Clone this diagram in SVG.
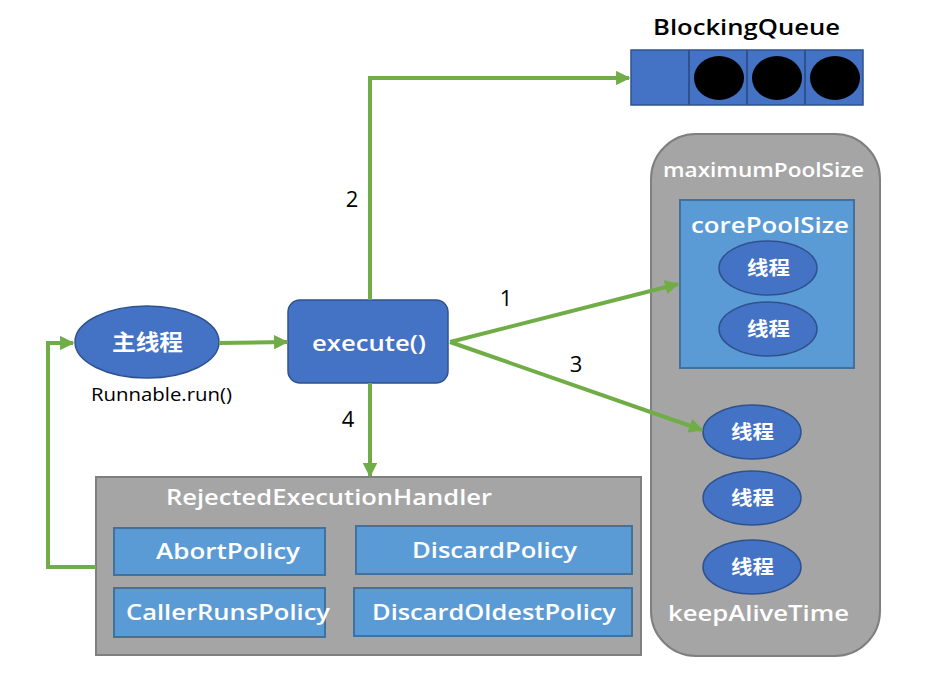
<svg xmlns="http://www.w3.org/2000/svg" width="947" height="686" viewBox="0 0 947 686">
<defs>
<marker id="arr" viewBox="0 0 10 10" refX="9" refY="5" markerWidth="3.6" markerHeight="3.6" orient="auto" markerUnits="strokeWidth">
<path d="M0,0 L10,5 L0,10 Z" fill="#70ad47"/>
</marker>
<style>
text{font-family:"Open Sans","Noto Sans CJK SC",sans-serif;font-weight:600;}
.w{fill:#fff;}
.b{fill:#000;}
.n{font-weight:400;}
.c{stroke:#70ad47;stroke-width:4;fill:none;marker-end:url(#arr);}
.blue{fill:#4472c4;stroke:#2f528f;stroke-width:1.5;}
.lb{fill:#5b9bd5;stroke:#41719c;stroke-width:2;}
.grey{fill:#a5a5a5;stroke:#7f7f7f;stroke-width:2;}
</style>
</defs>
<rect width="947" height="686" fill="#fff"/>

<g id="queue">
<text x="653" y="35" font-size="22" textLength="187" lengthAdjust="spacingAndGlyphs" class="b">BlockingQueue</text>
<rect x="631" y="50" width="232" height="55" class="blue" stroke-width="2"/>
<line x1="689" y1="50" x2="689" y2="105" stroke="#2f528f" stroke-width="2"/>
<line x1="747" y1="50" x2="747" y2="105" stroke="#2f528f" stroke-width="2"/>
<line x1="805" y1="50" x2="805" y2="105" stroke="#2f528f" stroke-width="2"/>
<ellipse cx="719" cy="78" rx="25" ry="22" fill="#000"/>
<ellipse cx="777" cy="78" rx="25" ry="22" fill="#000"/>
<ellipse cx="835" cy="78" rx="25" ry="22" fill="#000"/>
</g>

<g id="maxpool">
<rect x="651" y="134" width="229" height="522" rx="45" class="grey"/>
<text x="663" y="177" font-size="20" textLength="201" lengthAdjust="spacingAndGlyphs" class="w">maximumPoolSize</text>
<text x="668" y="621" font-size="21" textLength="181" lengthAdjust="spacingAndGlyphs" class="w">keepAliveTime</text>
</g>

<g id="corepool">
<rect x="680" y="200" width="174" height="168" class="lb"/>
<text x="691" y="233" font-size="21" textLength="158" lengthAdjust="spacingAndGlyphs" class="w">corePoolSize</text>
</g>

<g id="t1"><ellipse cx="768" cy="268" rx="49" ry="27" class="blue"/><text x="747" y="275" font-size="19" textLength="43" lengthAdjust="spacingAndGlyphs" class="w">线程</text></g>
<g id="t2"><ellipse cx="768" cy="329" rx="49" ry="27" class="blue"/><text x="747" y="336" font-size="19" textLength="43" lengthAdjust="spacingAndGlyphs" class="w">线程</text></g>
<g id="t3"><ellipse cx="752" cy="432" rx="49" ry="27" class="blue"/><text x="731" y="439" font-size="19" textLength="43" lengthAdjust="spacingAndGlyphs" class="w">线程</text></g>
<g id="t4"><ellipse cx="752" cy="498" rx="49" ry="27" class="blue"/><text x="731" y="505" font-size="19" textLength="43" lengthAdjust="spacingAndGlyphs" class="w">线程</text></g>
<g id="t5"><ellipse cx="752" cy="567" rx="49" ry="27" class="blue"/><text x="731" y="574" font-size="19" textLength="43" lengthAdjust="spacingAndGlyphs" class="w">线程</text></g>

<g id="main">
<ellipse cx="147" cy="342" rx="72" ry="36" class="blue"/>
<text x="112" y="350" font-size="22" textLength="71" lengthAdjust="spacingAndGlyphs" class="w">主线程</text>
<text x="91" y="401" font-size="18" textLength="141" lengthAdjust="spacingAndGlyphs" class="b" font-weight="500" style="font-weight:500">Runnable.run()</text>
</g>

<g id="execute">
<rect x="288" y="300" width="160" height="83" rx="12" class="blue"/>
<text x="312" y="351" font-size="22" textLength="114" lengthAdjust="spacingAndGlyphs" class="w">execute()</text>
</g>

<g id="handler">
<rect x="96" y="477" width="545" height="178" class="grey"/>
<text x="166" y="505" font-size="21" textLength="326" lengthAdjust="spacingAndGlyphs" class="w">RejectedExecutionHandler</text>
</g>
<g id="abort"><rect x="114" y="528" width="211" height="47" class="lb"/><text x="156" y="559" font-size="21" textLength="144" lengthAdjust="spacingAndGlyphs" class="w">AbortPolicy</text></g>
<g id="discard"><rect x="356" y="526" width="276" height="48" class="lb"/><text x="412" y="558" font-size="21" textLength="165" lengthAdjust="spacingAndGlyphs" class="w">DiscardPolicy</text></g>
<g id="callerruns"><rect x="114" y="588" width="211" height="49" class="lb"/><text x="126" y="620" font-size="21" textLength="204" lengthAdjust="spacingAndGlyphs" class="w">CallerRunsPolicy</text></g>
<g id="discardoldest"><rect x="354" y="588" width="278" height="48" class="lb"/><text x="372" y="620" font-size="21" textLength="244" lengthAdjust="spacingAndGlyphs" class="w">DiscardOldestPolicy</text></g>

<g id="connectors">
<polyline points="370,300 370,78 629,78" class="c"/>
<line x1="219" y1="343" x2="287" y2="342" class="c"/>
<line x1="450" y1="342" x2="678" y2="284" class="c"/>
<line x1="450" y1="342" x2="702" y2="430" class="c"/>
<line x1="370" y1="383" x2="370" y2="476" class="c"/>
<polyline points="96,567 48,567 48,343 73,343" class="c"/>
<text x="352" y="207" font-size="22" text-anchor="middle" class="b n">2</text>
<text x="506" y="306" font-size="22" text-anchor="middle" class="b n">1</text>
<text x="576" y="372" font-size="22" text-anchor="middle" class="b n">3</text>
<text x="348" y="427" font-size="22" text-anchor="middle" class="b n">4</text>
</g>
</svg>
